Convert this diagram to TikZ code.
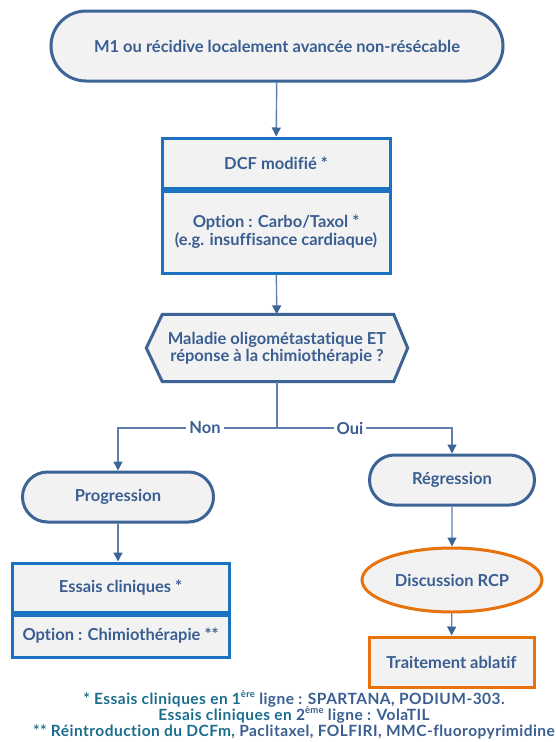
\documentclass[tikz,border=0pt]{standalone}
\usepackage{fontspec}
\setmainfont{Lato}[Ligatures=NoCommon]
\newfontfamily\footfont[LetterSpace=3,Ligatures=NoCommon]{Lato}
\usetikzlibrary{shapes.misc,shapes.geometric,arrows.meta}
\definecolor{txt}{HTML}{3A5E91}
\definecolor{term}{HTML}{3C6496}
\definecolor{boxb}{HTML}{1B72C0}
\definecolor{orng}{HTML}{E8720C}
\definecolor{fillg}{HTML}{F2F2F2}
\definecolor{conn}{HTML}{5E80AE}
\definecolor{teal}{HTML}{1B6E8E}
\newcommand{\supx}[1]{\raisebox{0.42em}{\fontsize{9.5}{10}\selectfont #1}}
\tikzset{
  every node/.style={font=\bfseries\fontsize{16.5}{17}\selectfont, text=txt, align=center},
  terminal/.style={rounded rectangle, draw=term, line width=3pt, fill=fillg, inner sep=0pt},
  bluebox/.style={rectangle, draw=boxb, line width=3pt, fill=fillg, inner sep=0pt},
  orbox/.style={rectangle, draw=orng, line width=3pt, fill=fillg, inner sep=0pt},
  orell/.style={ellipse, draw=orng, line width=3pt, fill=fillg, inner sep=0pt},
  conline/.style={draw=conn, line width=1.4pt},
  arr/.style={conline, -{Triangle[width=9pt,length=9pt,fill=term,color=term]}},
  lbl/.style={fill=white, inner sep=3pt},
  foot/.style={font=\footfont\bfseries\fontsize{15.5}{15}\selectfont, text=txt, inner sep=0pt, anchor=base, text height=11pt, text depth=3pt}
}
\begin{document}
\begin{tikzpicture}[x=1pt,y=-1pt]
\useasboundingbox (0,0) rectangle (556,742);
\fill[white] (0,0) rectangle (556,742);
% top terminal
\node[terminal, minimum width=452pt, minimum height=70pt] (top) at (277,46) {M1 ou récidive localement avancée non-résécable};
% DCF boxes
\node[bluebox, minimum width=228pt, minimum height=50pt] (dcf) at (276,163) {DCF modifié *};
\node[bluebox, minimum width=228pt, minimum height=82pt, anchor=north, font=\bfseries\fontsize{16.5}{18}\selectfont] (dcfopt) at (dcf.south) {Option : Carbo/Taxol *\\(e.g. insuffisance cardiaque)};
% hexagon
\node[minimum width=261pt, minimum height=67pt, inner sep=0pt] (hex) at (277,348) {};
\filldraw[draw=term, fill=fillg, line width=3pt, line join=miter]
  (hex.west) -- ([xshift=16pt]hex.north west) -- ([xshift=-14pt]hex.north east) -- (hex.east)
  -- ([xshift=-14pt]hex.south east) -- ([xshift=16pt]hex.south west) -- cycle;
\node[inner sep=0pt] (hextext) at (hex.center) {Maladie oligométastatique ET\\réponse à la chimiothérapie ?};
% left branch
\node[terminal, minimum width=191pt, minimum height=50pt] (prog) at (118,497) {Progression};
\node[bluebox, minimum width=217pt, minimum height=49pt] (ess) at (120.5,587.5) {Essais cliniques *};
\node[bluebox, minimum width=217pt, minimum height=42pt, anchor=north] (essopt) at (ess.south) {Option : Chimiothérapie **};
% right branch
\node[terminal, minimum width=165pt, minimum height=50pt] (reg) at (452,480) {Régression};
\node[orell, minimum width=180pt, minimum height=64pt] (rcp) at (452,580) {Discussion RCP};
\node[orbox, minimum width=165pt, minimum height=50pt] (abl) at (451.5,662) {Traitement ablatif};
% connectors
\coordinate (j) at (277,428);
\draw[arr] (top) -- (dcf);
\draw[arr] (dcfopt) -- (hex);
\draw[conline] (hex.south) -- (j);
\draw[arr] (j) -- (prog.north |- j) -- (prog.north);
\draw[arr] (j) -- (reg.north |- j) -- (reg.north);
\node[lbl] (non) at (205,428) {Non};
\node[lbl] (oui) at (350,428) {Oui};
\draw[arr] (prog.south) -- (prog.south |- ess.north);
\draw[arr] (reg) -- (rcp);
\draw[arr] (rcp) -- (abl);
% footnotes
\node[foot] (f1) at (294,704) {\textcolor{teal}{* Essais cliniques en 1\supx{ère}} ligne : SPARTANA, PODIUM-303.};
\node[foot] (f2) at (294,720) {\textcolor{teal}{Essais cliniques en} 2\supx{ème} ligne : VolaTIL};
\node[foot] (f3) at (294,736) {\textcolor{teal}{** Réintroduction du DCFm,} Paclitaxel, FOLFIRI, MMC-fluoropyrimidine};
\end{tikzpicture}
\end{document}
